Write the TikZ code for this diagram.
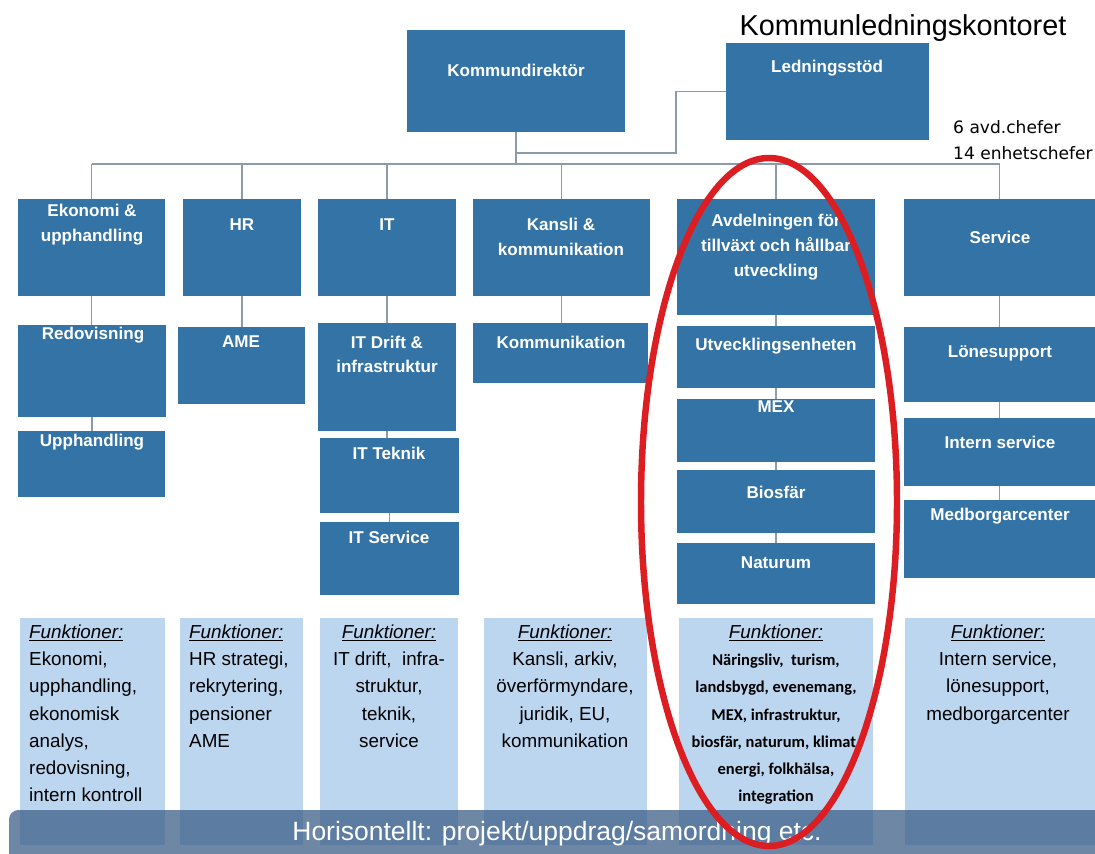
\documentclass[tikz,border=0pt]{standalone}
\usepackage{fontspec}
\setmainfont{Liberation Sans}
\newfontfamily\calfont{Carlito}
\newfontfamily\dejafont{DejaVu Sans}
\usepackage{tikz}
\usetikzlibrary{fit,positioning}
\definecolor{boxblue}{RGB}{52,115,165}
\definecolor{funcblue}{RGB}{188,214,240}
\definecolor{bandblue}{RGB}{60,95,135}
\definecolor{linegray}{RGB}{140,155,170}
\definecolor{ringred}{RGB}{220,30,35}

\begin{document}
\begin{tikzpicture}
[x=0.85pt,y=-0.85pt,
 orgbox/.style={fill=boxblue,inner sep=0pt,outer sep=0pt},
 funcbox/.style={fill=funcblue,inner sep=0pt,outer sep=0pt},
 boxtxt/.style={text=white,font=\fontsize{14.5}{21}\selectfont\bfseries,align=center,inner sep=0pt},
 functxt/.style={text=black,font=\fontsize{16}{23}\selectfont,inner sep=0pt,anchor=north,align=center},
 conn/.style={draw=linegray,line width=1pt},
 band/.style={fill=bandblue,fill opacity=0.75,rounded corners=8pt,inner sep=0pt},
 ring/.style={draw=ringred,line width=5.5pt}]
\useasboundingbox (0,0) rectangle (1095,854);

\node[font=\fontsize{24.5}{28}\selectfont,inner sep=0pt] (title) at (903,28) {Kommunledningskontoret};
\node[font=\dejafont\fontsize{14.5}{22}\selectfont,align=left,anchor=west,inner sep=0pt] (chefer) at (953,140) {6 avd.chefer\\14 enhetschefer};

\node[orgbox,fit={(407,30) (625,132)}] (kdir) {};
\node[orgbox,fit={(726,43) (929,140)}] (ledn) {};

\node[orgbox,fit={(18,199) (165,296)}] (ekon) {};
\node[orgbox,fit={(183,199) (301,296)}] (hr) {};
\node[orgbox,fit={(318,199) (456,296)}] (it) {};
\node[orgbox,fit={(473,199) (650,296)}] (kansli) {};
\node[orgbox,fit={(677,199) (875,315)}] (avd) {};
\node[orgbox,fit={(904,199) (1095,296)}] (serv) {};

\node[orgbox,fit={(18,325) (166,417)}] (redo) {};
\node[orgbox,fit={(18,431) (165,497)}] (upph) {};
\node[orgbox,fit={(178,327) (305,404)}] (ame) {};
\node[orgbox,fit={(318,323) (456,431)}] (itdrift) {};
\node[orgbox,fit={(320,438) (459,513)}] (itteknik) {};
\node[orgbox,fit={(320,522) (459,595)}] (itserv) {};
\node[orgbox,fit={(473,323) (648,383)}] (komm) {};
\node[orgbox,fit={(677,326) (875,388)}] (utv) {};
\node[orgbox,fit={(677,399) (875,462)}] (mex) {};
\node[orgbox,fit={(677,470) (875,533)}] (bios) {};
\node[orgbox,fit={(677,543) (875,604)}] (natur) {};
\node[orgbox,fit={(904,327) (1095,402)}] (lone) {};
\node[orgbox,fit={(904,418) (1095,486)}] (intern) {};
\node[orgbox,fit={(904,500) (1095,578)}] (medb) {};

\node[boxtxt] (kdirtxt) at (516,70) {Kommundirektör};
\node[boxtxt] (ledntxt) at (827,68) {Ledningsstöd};
\node[boxtxt] (ekontxt) at (92,224.5) {Ekonomi \&\\upphandling};
\node[boxtxt] (hrtxt) at (242,225) {HR};
\node[boxtxt] (ittxt) at (387,225) {IT};
\node[boxtxt] (kanslitxt) at (561,237) {Kansli \&\\kommunikation};
\node[boxtxt] (avdtxt) at (776,247) {Avdelningen för\\tillväxt och hållbar\\utveckling};
\node[boxtxt] (servtxt) at (1000,237) {Service};
\node[boxtxt] (redotxt) at (93,335) {Redovisning};
\node[boxtxt] (upphtxt) at (92,442) {Upphandling};
\node[boxtxt] (ametxt) at (241,342) {AME};
\node[boxtxt] (itdrifttxt) at (387,354.5) {IT Drift \&\\infrastruktur};
\node[boxtxt] (itteknlbl) at (389,453) {IT Teknik};
\node[boxtxt] (itservtxt) at (389,537) {IT Service};
\node[boxtxt] (kommtxt) at (561,342) {Kommunikation};
\node[boxtxt] (utvtxt) at (776,346) {Utvecklingsenheten};
\node[boxtxt] (mextxt) at (776,407) {MEX};
\node[boxtxt] (biostxt) at (776,492) {Biosfär};
\node[boxtxt] (naturtxt) at (776,563) {Naturum};
\node[boxtxt] (lonetxt) at (1000,353) {Lönesupport};
\node[boxtxt] (interntxt) at (1000,442) {Intern service};
\node[boxtxt] (medbtxt) at (1000,516) {Medborgarcenter};

\coordinate (bus) at (0,164);
\coordinate (stub) at (0,153);
\draw[conn] (kdir.south) -- (kdir.south |- bus);
\draw[conn] (ekon.north |- bus) -- (serv.north |- bus);
\foreach \n in {ekon,hr,it,kansli,avd,serv}
\draw[conn] (\n.north) -- (\n.north |- bus);
\draw[conn] (ledn.west) -- ++(-50,0) |- (kdir.south |- stub);
\foreach \from/\to in {ekon/redo,redo/upph,hr/ame,it/itdrift,itdrift/itteknik,itteknik/itserv,kansli/komm,avd/utv,utv/mex,mex/bios,bios/natur,serv/lone,lone/intern,intern/medb}
\draw[conn] (\from.south) -- (\from.south |- \to.north);

\node[funcbox,fit={(20,618) (164.5,845)}] (f1) {};
\node[funcbox,fit={(179.6,618) (303.4,845)}] (f2) {};
\node[funcbox,fit={(320,618) (457.7,845)}] (f3) {};
\node[funcbox,fit={(484,618) (646.6,845)}] (f4) {};
\node[funcbox,fit={(678.6,618) (873,845)}] (f5) {};
\node[funcbox,fit={(905,618) (1095,845)}] (f6) {};

\node[functxt,anchor=north west,align=left] (f1txt) at (29,625) {\underline{\textit{Funktioner:}}\\Ekonomi,\\upphandling,\\ekonomisk\\analys,\\redovisning,\\intern kontroll};
\node[functxt,anchor=north west,align=left] (f2txt) at (189,625) {\underline{\textit{Funktioner:}}\\HR strategi,\\rekrytering,\\pensioner\\AME};
\node[functxt] (f3txt) at (389,625) {\underline{\textit{Funktioner:}}\\IT drift,\ \ infra-\\struktur,\\teknik,\\service};
\node[functxt] (f4txt) at (565,625) {\underline{\textit{Funktioner:}}\\Kansli, arkiv,\\överförmyndare,\\juridik, EU,\\kommunikation};
\node[functxt,font=\calfont\bfseries\fontsize{14}{23}\selectfont] (f5txt) at (776,625) {{\rmfamily\mdseries\fontsize{16}{23}\selectfont\underline{\textit{Funktioner:}}}\\Näringsliv,\ \ turism,\\landsbygd, evenemang,\\MEX, infrastruktur,\\biosfär, naturum, klimat,\\energi, folkhälsa,\\integration};
\node[functxt] (f6txt) at (998,625) {\underline{\textit{Funktioner:}}\\Intern service,\\lönesupport,\\medborgarcenter};

\node[band,fit={(9,810) (1115,870)}] (hband) {};
\node[text=white,font=\fontsize{22.5}{26}\selectfont,inner sep=0pt] (hbandtxt) at (557,834) {Horisontellt: projekt/uppdrag/samordning etc.};

\draw[ring] (769,502) ellipse [x radius=128, y radius=344];

\end{tikzpicture}
\end{document}
